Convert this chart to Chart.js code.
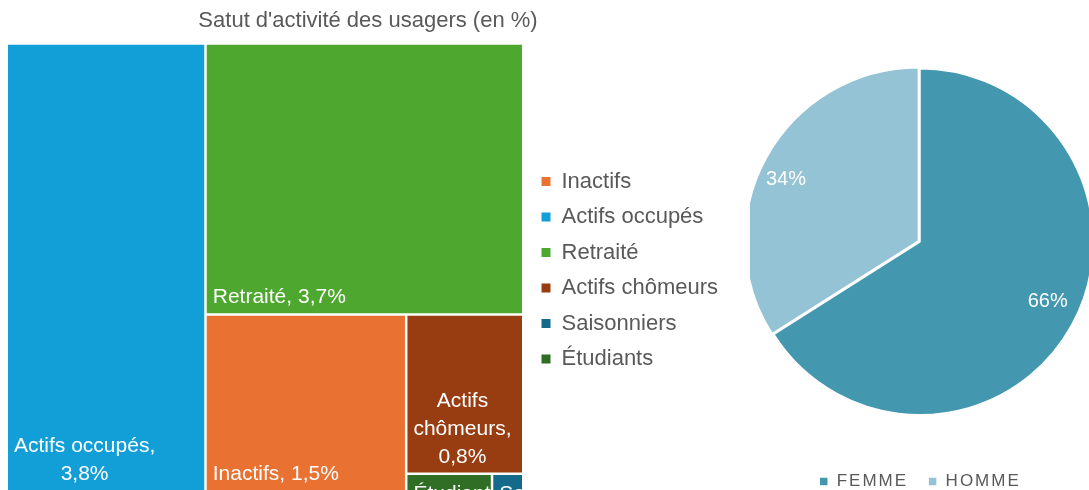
<!DOCTYPE html>
<html lang="fr">
<head>
<meta charset="utf-8">
<script src="https://cdn.jsdelivr.net/npm/chart.js@4.4.1/dist/chart.umd.min.js"></script>
<style>
    html, body { margin: 0; padding: 0; background: #fff; }
    #wrap { position: relative; width: 1089px; height: 490px; overflow: hidden; }
    #left { position: absolute; left: 0; top: 0; width: 728px; height: 490px; }
    #right { position: absolute; left: 750px; top: 0; width: 340px; height: 500px; }
</style>
</head>
<body>
<div id="wrap">
    <div id="left"><canvas id="treeChart"></canvas></div>
    <div id="right"><canvas id="pieChart"></canvas></div>
</div>
<script>
'use strict';

// statut d'activité des usagers (en %), in legend order
const statusLabels = ['Inactifs', 'Actifs occupés', 'Retraité', 'Actifs chômeurs', 'Saisonniers', 'Étudiants'];
const statusValues = [1.5, 3.8, 3.7, 0.8, 0.02, 0.055];
const statusColors = ['#E97132', '#129ED6', '#4EA72E', '#983D12', '#156A8C', '#2F6E24'];

// répartition par sexe (en %)
const sexLabels = ['FEMME', 'HOMME'];
const sexValues = [66, 34];
const sexColors = ['#4398B0', '#94C3D5'];

const grey = '#595959';
Chart.defaults.font.family = "'Liberation Sans', Arial, sans-serif";

// treemap domain (scale units), room left before the legend, white gap between tiles in px
const TREE_W = 515.5;
const TREE_H = 445;
const TX_MAX = 519;
const GAP = 2.5;

/**
 *  Excel-like layout: biggest tile first, each one takes a strip
 *  along the longest side of what is left.
 */
function sliceLayout(values, w, h) {
    let order = values.map((v, i) => i).sort((a, b) => values[b] - values[a]);
    let rest = values.reduce((s, v) => s + v, 0);
    let x = 0, y = 0;
    let rects = [];
    order.forEach(i => {
        let f = values[i] / rest;
        if (w >= h) {
            rects[i] = { x0: x, x1: x + w * f, y0: y, y1: y + h };
            x += w * f;
            w -= w * f;
        } else {
            rects[i] = { x0: x, x1: x + w, y0: y, y1: y + h * f };
            y += h * f;
            h -= h * f;
        }
        rest -= values[i];
    });
    return rects;
}

function pct(v) {
    return v.toFixed(1).replace('.', ',') + '%';
}

function wrapWords(ctx, text, maxWidth) {
    let words = text.split(' ');
    let lines = [];
    let line = '';
    words.forEach(w => {
        let test = line ? line + ' ' + w : w;
        if (line && ctx.measureText(test).width > maxWidth) {
            lines.push(line);
            line = w;
        } else {
            line = test;
        }
    });
    if (line) lines.push(line);
    return lines;
}

// put each bar element on its treemap tile, using the tx / ty scales
const treemapPlugin = {
    id: 'treemapTiles',
    afterDatasetsUpdate(chart) {
        const tx = chart.scales.tx, ty = chart.scales.ty;
        const rects = sliceLayout(statusValues, TREE_W, TREE_H);
        chart.data.datasets.forEach((ds, i) => {
            const el = chart.getDatasetMeta(i).data[0];
            const r = rects[i];
            const left = tx.getPixelForValue(r.x0);
            const right = tx.getPixelForValue(r.x1) - GAP;
            const top = ty.getPixelForValue(r.y0);
            // the outer bottom edge has no gap
            const bottom = ty.getPixelForValue(r.y1) - (r.y1 >= TREE_H - 0.01 ? 0 : GAP);
            el.x = (left + right) / 2;
            el.width = right - left;
            el.y = top;
            el.base = bottom;
            el.height = bottom - top;
            el.horizontal = false;
        });
    },
    afterDatasetsDraw(chart) {
        const ctx = chart.ctx;
        const padX = 6, padBottom = 10, lineHeight = 28;
        ctx.save();
        ctx.font = "21px 'Liberation Sans', Arial, sans-serif";
        ctx.fillStyle = '#fff';
        ctx.textAlign = 'center';
        ctx.textBaseline = 'alphabetic';
        chart.data.datasets.forEach((ds, i) => {
            const el = chart.getDatasetMeta(i).data[0];
            const left = el.x - el.width / 2, right = el.x + el.width / 2;
            const top = el.y, bottom = el.base;
            const lines = wrapWords(ctx, statusLabels[i] + ', ' + pct(statusValues[i]), right - left - 2 * padX);
            const blockW = Math.max(...lines.map(l => ctx.measureText(l).width));
            const cx = left + padX + blockW / 2;
            let baseY = bottom - padBottom - (lines.length - 1) * lineHeight;
            if (bottom - top < lineHeight) baseY = top + 25;
            ctx.save();
            ctx.beginPath();
            ctx.rect(left, top, right - left, bottom - top);
            ctx.clip();
            lines.forEach((l, k) => ctx.fillText(l, cx, baseY + k * lineHeight));
            ctx.restore();
        });
        ctx.restore();
    }
};

const pieLabelPlugin = {
    id: 'pieLabels',
    // legend text of the pie is letter-spaced
    beforeLayout(chart) {
        chart.ctx.letterSpacing = '2px';
    },
    beforeDraw(chart) {
        chart.ctx.letterSpacing = '2px';
    },
    afterDatasetsDraw(chart) {
        const ctx = chart.ctx;
        const meta = chart.getDatasetMeta(0);
        ctx.save();
        ctx.letterSpacing = '0px';
        ctx.font = "20px 'Liberation Sans', Arial, sans-serif";
        ctx.fillStyle = '#fff';
        ctx.textAlign = 'center';
        ctx.textBaseline = 'middle';
        meta.data.forEach((arc, i) => {
            const p = arc.getProps(['x', 'y', 'startAngle', 'endAngle', 'outerRadius']);
            const mid = (p.startAngle + p.endAngle) / 2 - 0.065;
            const d = p.outerRadius * 0.815 + (arc.options.offset || 0);
            ctx.fillText(sexValues[i] + '%', p.x + Math.cos(mid) * d, p.y + Math.sin(mid) * d);
        });
        ctx.restore();
    }
};

// treemap
new Chart(document.getElementById('treeChart'), {
    type: 'bar',
    data: {
        labels: [''],
        datasets: statusLabels.map((label, i) => ({
            label: label,
            data: [statusValues[i]],
            backgroundColor: statusColors[i],
            borderWidth: 0,
        })),
    },
    options: {
        responsive: true,
        maintainAspectRatio: false,
        animation: false,
        events: [],
        layout: { padding: { left: 8, right: 0, top: 0, bottom: 0 } },
        scales: {
            x: { display: false, stacked: true },
            y: { display: false, stacked: true },
            tx: { axis: 'x', position: 'bottom', type: 'linear', offset: false, min: 0, max: TX_MAX, display: false },
            ty: { axis: 'y', position: 'left', type: 'linear', offset: false, min: 0, max: TREE_H, reverse: true, display: false },
        },
        plugins: {
            title: {
                display: true,
                text: "Satut d'activité des usagers (en %)",
                color: grey,
                font: { size: 22, weight: 'normal' },
                padding: { top: 8, bottom: 10 },
            },
            legend: {
                position: 'right',
                fullSize: false,
                // empty title only nudges the items down a little
                title: { display: true, text: '', font: { size: 0 }, padding: { top: 6, bottom: 0 } },
                labels: {
                    color: grey,
                    font: { size: 22 },
                    boxWidth: 9,
                    boxHeight: 9,
                    padding: 13.5,
                },
            },
            tooltip: { enabled: false },
        },
    },
    plugins: [treemapPlugin],
});

// pie
new Chart(document.getElementById('pieChart'), {
    type: 'pie',
    data: {
        labels: sexLabels,
        datasets: [{
            data: sexValues,
            backgroundColor: sexColors,
            borderColor: '#fff',
            borderWidth: 1.5,
            offset: [0, 7],
        }],
    },
    options: {
        responsive: true,
        maintainAspectRatio: false,
        animation: false,
        events: [],
        radius: 173,
        layout: { padding: { top: 30.5, bottom: 0 } },
        plugins: {
            legend: {
                position: 'bottom',
                labels: {
                    color: grey,
                    font: { size: 17 },
                    boxWidth: 9,
                    boxHeight: 9,
                    padding: 20,
                },
            },
            tooltip: { enabled: false },
        },
    },
    plugins: [pieLabelPlugin],
});
</script>
</body>
</html>
